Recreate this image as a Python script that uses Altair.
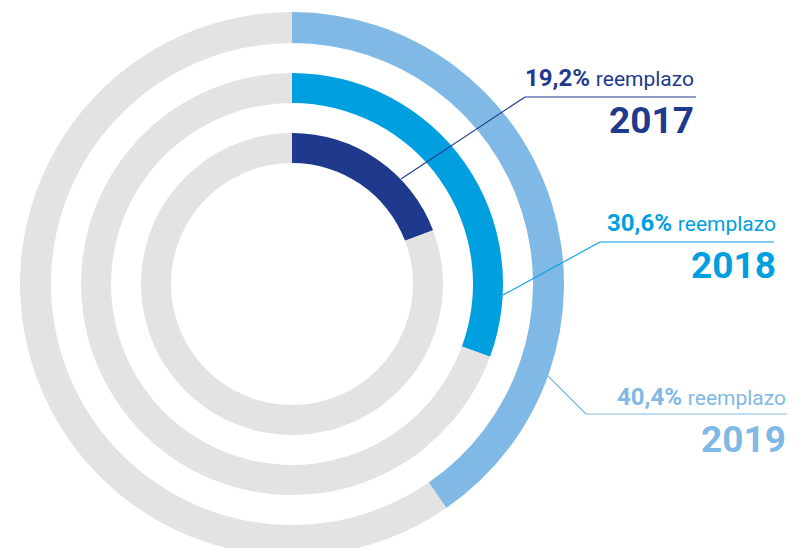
import altair as alt
import pandas as pd

# ---- data ----
years = ["2017", "2018", "2019"]
shares = [19.2, 30.6, 40.4]          # % reemplazo
pct_labels = ["19,2%", "30,6%", "40,4%"]
word = "reemplazo"

# ---- styles / layout ----
colors = {"2017": "#1f3a8c", "2018": "#00a0e0", "2019": "#80b9e5"}
gray = "#e5e3e1"
OFF = 8                                   # page margin
CX, CY = 292 - OFF, 284 - OFF             # ring centre (chart px)
radii = {"2017": (121, 151), "2018": (181, 211), "2019": (241, 272)}

# label layout (page px)
word_x = {"2017": 694, "2018": 776, "2019": 786}
PCT_GAP = 104                              # distance from word end to pct end
pct_y = {"2017": 86, "2018": 231, "2019": 405}
year_y = {"2017": 133, "2018": 278, "2019": 452}
hline = {"2017": (525, 696, 97), "2018": (600, 774, 242), "2019": (586, 787, 414)}
anchor = {"2017": (401, 179), "2018": (503, 295), "2019": (548, 376)}

W, H = 779, 540

# ring table
ring_rows = []
for y, s in zip(years, shares):
    ring_rows.append({"year": y, "amount": s, "ord": 0, "col": colors[y]})
    ring_rows.append({"year": y, "amount": 100 - s, "ord": 1, "col": gray})
ring_df = pd.DataFrame(ring_rows)

layers = []
for y in years:
    r_in, r_out = radii[y]
    layers.append(
        alt.Chart(ring_df[ring_df.year == y])
        .mark_arc(radius=r_out, radius2=r_in, stroke=None)
        .encode(
            theta=alt.Theta("amount:Q", stack=True),
            order=alt.Order("ord:Q"),
            color=alt.Color("col:N", scale=None),
            x=alt.value(CX),
            y=alt.value(CY),
        )
    )

# leader lines
rule_rows = []
for y in years:
    x1, x2, yy = hline[y]
    ax, ay = anchor[y]
    rule_rows.append({"x": x1 - OFF, "y": yy - OFF, "x2": x2 - OFF, "y2": yy - OFF, "col": colors[y]})
    rule_rows.append({"x": x1 - OFF, "y": yy - OFF, "x2": ax - OFF, "y2": ay - OFF, "col": colors[y]})
rule_df = pd.DataFrame(rule_rows)
rules = alt.Chart(rule_df).mark_rule(strokeWidth=1.1).encode(
    x=alt.X("x:Q", scale=None, axis=None),
    y=alt.Y("y:Q", scale=None, axis=None),
    x2="x2:Q",
    y2="y2:Q",
    color=alt.Color("col:N", scale=None),
)

lab_rows = []
for y, p in zip(years, pct_labels):
    lab_rows.append({"x": word_x[y] - PCT_GAP - OFF, "y": pct_y[y] - OFF, "t": p, "col": colors[y], "kind": "pct"})
    lab_rows.append({"x": word_x[y] - OFF, "y": pct_y[y] - OFF, "t": word, "col": colors[y], "kind": "word"})
    lab_rows.append({"x": word_x[y] - OFF, "y": year_y[y] - OFF, "t": y, "col": colors[y], "kind": "year"})
lab_df = pd.DataFrame(lab_rows)

def text_layer(kind, **kw):
    return alt.Chart(lab_df[lab_df.kind == kind]).mark_text(
        font="Roboto", baseline="alphabetic", **kw
    ).encode(
        x=alt.X("x:Q", scale=None, axis=None),
        y=alt.Y("y:Q", scale=None, axis=None),
        text="t:N",
        color=alt.Color("col:N", scale=None),
    )

pct_t = text_layer("pct", align="right", fontSize=24, fontWeight="bold")
word_t = text_layer("word", align="right", fontSize=21, fontWeight="normal")
year_t = text_layer("year", align="right", fontSize=37, fontWeight="bold")

chart = alt.layer(*layers, rules, pct_t, word_t, year_t).properties(
    width=W, height=H, padding=0,
    autosize=alt.AutoSizeParams(type="none"),
).configure_view(stroke=None)

chart.save("out.html", embed_options={"renderer": "svg", "actions": False})
